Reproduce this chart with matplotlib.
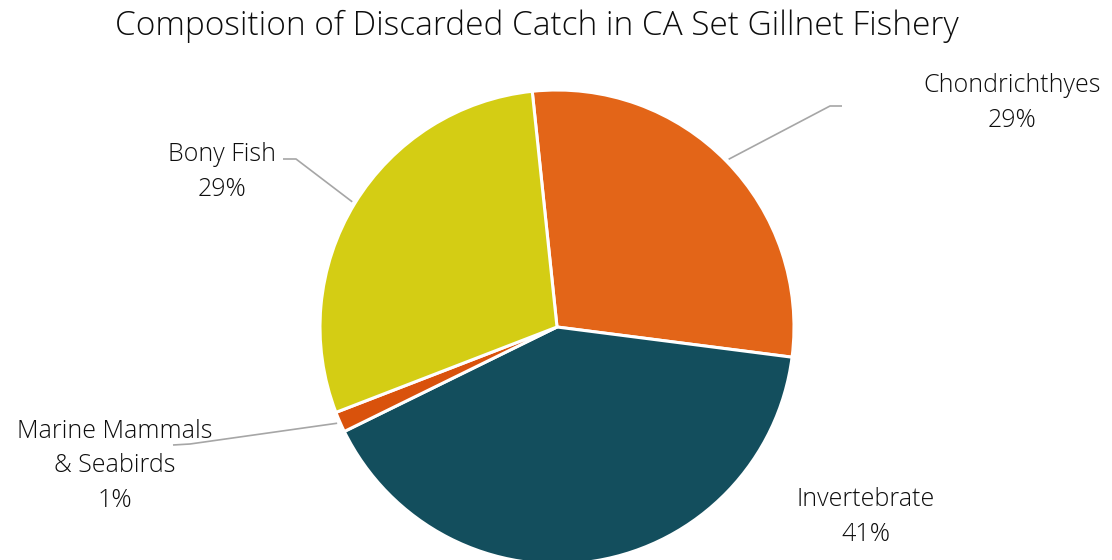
import numpy as np
import matplotlib.pyplot as plt

categories = ["Chondrichthyes", "Invertebrate", "Marine Mammals\n& Seabirds", "Bony Fish"]
shares = [28.7, 40.7, 1.4, 29.2]
colors = ["#E36518", "#134E5D", "#D9520C", "#D4CD14"]

W, H = 1112, 560
fig = plt.figure(figsize=(W / 100, H / 100), dpi=100)
ax = fig.add_axes([0, 0, 1, 1])

font = dict(family=["Open Sans", "DejaVu Sans"], fontweight="light", color="#0d0d0d")

cx, cy, r = 557, H - 327, 237
wedges, _ = ax.pie(shares, colors=colors, startangle=96, counterclock=False,
                   center=(cx, cy), radius=r, frame=True,
                   wedgeprops=dict(edgecolor="white", linewidth=2.2))
ax.set_xlim(0, W)
ax.set_ylim(0, H)
ax.set_aspect("equal")
ax.axis("off")

# text position and leader elbow for each slice (None = no leader)
label_pos = [(1012, H - 103), (866, H - 517), (115, H - 466), (222, H - 172)]
elbows = [[(830, H - 106), (842, H - 106)], None,
          [(190, H - 444), (173, H - 445)],
          [(296, H - 159), (283, H - 159)]]

for w, name, share, pos, elb in zip(wedges, categories, shares, label_pos, elbows):
    pct = f"{round(share):.0f}%"
    ax.text(pos[0], pos[1], f"{name}\n{pct}", ha="center", va="center",
            fontsize=18, linespacing=1.52, **font)
    if elb is None:
        continue
    mid = np.deg2rad((w.theta1 + w.theta2) / 2)
    sx, sy = cx + (r + 3) * np.cos(mid), cy + (r + 3) * np.sin(mid)
    xs = [sx] + [p[0] for p in elb]
    ys = [sy] + [p[1] for p in elb]
    ax.plot(xs, ys, color="#a6a6a6", linewidth=1.2, solid_capstyle="butt")

ax.text(537, H - 26, "Composition of Discarded Catch in CA Set Gillnet Fishery",
        ha="center", va="center", fontsize=24, **font)

fig.savefig("out.png", dpi=100)
